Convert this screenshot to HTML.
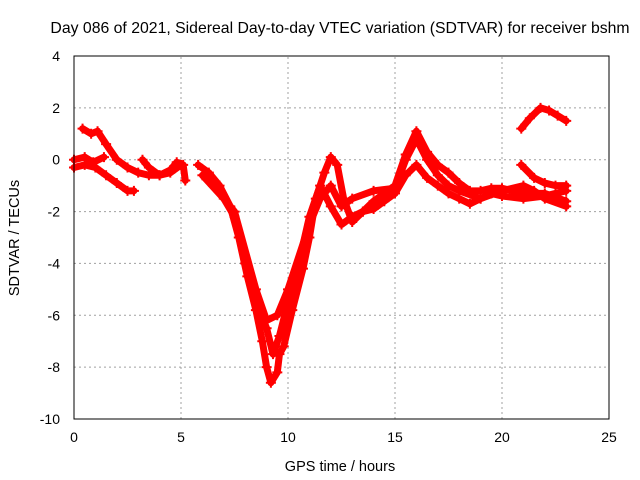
<!DOCTYPE html>
<html><head><meta charset="utf-8"><style>
body{margin:0;background:#fff}
svg{display:block;font-family:"Liberation Sans",sans-serif}
</style></head><body>
<svg id="chart" width="640" height="480">
<rect width="640" height="480" fill="#fff"/>
<g id="grid"></g>
<g id="series"></g>
<rect x="74" y="56" width="535" height="363" fill="none" stroke="#000" stroke-width="1"/>
<g id="ticks"></g>
<text x="340" y="33" font-size="15.8" text-anchor="middle">Day 086 of 2021, Sidereal Day-to-day VTEC variation (SDTVAR) for receiver bshm</text>
<text x="340" y="471" font-size="14.5" text-anchor="middle">GPS time / hours</text>
<text x="19" y="238" font-size="14.5" text-anchor="middle" transform="rotate(-90 19 238)">SDTVAR / TECUs</text>
</svg>
<script>
const xTicks=[0,5,10,15,20,25];
const yTicks=[4,2,0,-2,-4,-6,-8,-10];
const seriesA=[[0.4,1.2],[0.8,1.0],[1.1,1.1],[1.5,0.6],[2.0,0],[2.5,-0.3],[3,-0.5],[3.5,-0.6],[4,-0.6],[4.5,-0.5],[5,-0.2]];
const seriesB=[[0,-0.3],[0.5,-0.2],[1,-0.3],[1.5,-0.6],[2,-0.9],[2.5,-1.2],[2.8,-1.2]];
const seriesC=[[0,0],[0.5,0.1],[0.9,-0.1],[1.4,0.1]];
const seriesD=[[3.2,0],[3.5,-0.3],[4,-0.6],[4.5,-0.4],[4.8,-0.1],[5.1,-0.2],[5.2,-0.8]];
const seriesE=[[5.8,-0.2],[6.3,-0.5],[6.8,-1],[7.3,-1.8],[7.7,-3],[8.1,-4.5],[8.5,-5.8],[8.8,-7],[9.0,-8],[9.2,-8.6],[9.5,-8.2],[9.6,-7.5],[9.8,-7.2],[10.2,-5.8],[10.7,-4.2],[11,-3],[11.3,-1.5],[11.7,-0.5],[12,0.1],[12.3,-0.2],[12.6,-1.5],[13,-2.4],[13.5,-2],[14,-1.6],[14.5,-1.3],[15,-1],[15.5,0.2],[16,1.1],[16.5,0.3],[17,-0.2],[17.5,-0.5],[18,-0.9],[18.5,-1.2],[19,-1.2],[19.5,-1.1],[20,-1.1],[21,-1.3],[22,-1.3],[23,-1.6]];
const seriesF=[[6,-0.6],[7,-1.5],[7.5,-2.2],[8,-4],[8.5,-5.5],[9,-6.5],[9.3,-7.5],[9.6,-6.8],[10,-5.5],[10.5,-4],[11,-2.2],[11.5,-1],[12,-1.8],[12.5,-2.5],[13,-2.2],[13.5,-2],[14,-1.9],[14.5,-1.6],[15,-1.3],[15.5,-0.6],[16,-0.2],[16.5,-0.7],[17,-1],[17.5,-1.3],[18,-1.5],[18.5,-1.7],[19,-1.5],[19.5,-1.3],[20,-1.4],[21,-1.5],[22,-1.4],[23,-1.2]];
const seriesG=[[6.5,-1],[7.5,-2],[8.5,-5],[9,-6.2],[9.5,-6],[10,-5],[11,-2.5],[11.5,-1.5],[12,-1],[12.5,-1.8],[13,-1.5],[14,-1.2],[15,-1.1],[15.5,0],[16,0.8],[16.5,0],[17,-0.6],[17.5,-1],[18,-1.2],[19,-1.5],[20,-1.2],[21,-1.0],[21.5,-1.2],[22,-1.5],[23,-1.8]];
const seriesH=[[20.9,-0.2],[21.5,-0.7],[22,-0.9],[22.5,-1.0],[23,-1.0]];
const seriesI=[[20.9,1.2],[21.3,1.6],[21.8,2.0],[22.2,1.9],[22.6,1.7],[23,1.5]];
const allSeries=[seriesA,seriesB,seriesC,seriesD,seriesE,seriesF,seriesG,seriesH,seriesI];
const X0=74,X1=609,Y0=419,Y1=56;
const xs=v=>X0+(v-0)/(25-0)*(X1-X0);
const ys=v=>Y0-(v+10)/(14)*(Y0-Y1);
const NS="http://www.w3.org/2000/svg";
const grid=document.getElementById('grid'),ticks=document.getElementById('ticks'),ser=document.getElementById('series');
function mk(t,a,p){const e=document.createElementNS(NS,t);for(const k in a)e.setAttribute(k,a[k]);p.appendChild(e);return e;}
xTicks.forEach(v=>{const x=xs(v);
 if(v>0&&v<25){const g=mk('line',{x1:x,x2:x,y1:Y0,y2:Y1,stroke:'#a0a0a0','stroke-dasharray':'2,3'},grid);
 
 }
 const t=mk('text',{x:x,y:Y0+23,'font-size':14,'text-anchor':'middle'},ticks);t.textContent=v;
 
 });
yTicks.forEach(v=>{const y=ys(v);
 if(v>-10&&v<4){const g=mk('line',{x1:X0,x2:X1,y1:y,y2:y,stroke:'#a0a0a0','stroke-dasharray':'2,3'},grid);
 
 }
 const t=mk('text',{x:X0-14,y:y+5,'font-size':14,'text-anchor':'end'},ticks);t.textContent=v;
 
 });
allSeries.forEach((s,i)=>{
 const p=mk('polyline',{points:s.map(d=>xs(d[0])+','+ys(d[1])).join(' '),fill:'none',stroke:'#f00','stroke-width':7,'stroke-linejoin':'round','stroke-linecap':'round'},ser);
 
 
 s.forEach(d=>{const x=xs(d[0]),y=ys(d[1]);
  const m=mk('path',{d:`M${x-5},${y}H${x+5}M${x},${y-5}V${y+5}`,stroke:'#f00','stroke-width':2},ser);
  
  });
});
</script>
</body></html>
